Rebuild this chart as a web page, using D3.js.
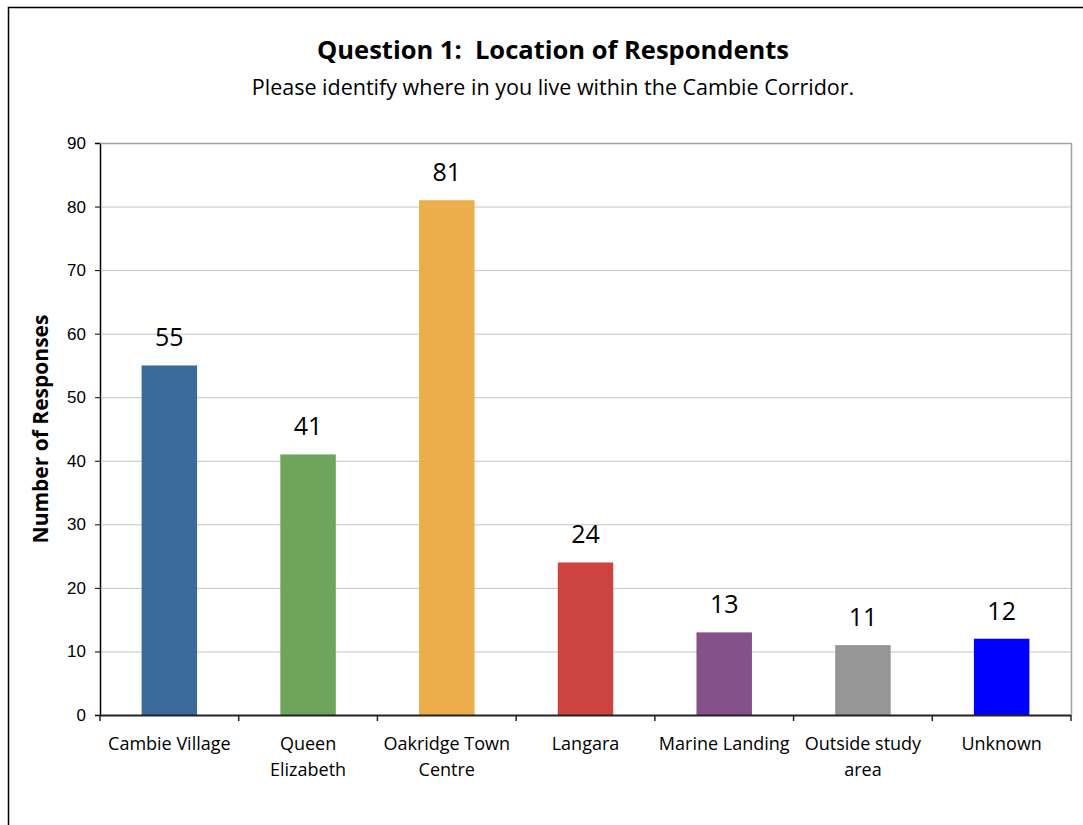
<!DOCTYPE html>
<html>
<head>
<meta charset="utf-8">
<script src="https://cdn.jsdelivr.net/npm/d3@7"></script>
<style>
body { margin: 0; background: #fff; }
</style>
</head>
<body>
<svg class="chart" width="1083" height="825"></svg>
<script>
var categories = [["Cambie Village"], ["Queen", "Elizabeth"], ["Oakridge Town", "Centre"], ["Langara"], ["Marine Landing"], ["Outside study", "area"], ["Unknown"]];
var responses = [55, 41, 81, 24, 13, 11, 12];
var colors = ["#3b6a9b", "#6ea45b", "#ecae4b", "#cc4340", "#845189", "#969696", "#0000ff"];
var yTicks = [0, 10, 20, 30, 40, 50, 60, 70, 80, 90];

var humanist = "'Open Sans', 'Noto Sans', sans-serif";

var svg = d3.select(".chart"),
    margin = {top: 143, right: 12, bottom: 110, left: 100},
    width = +svg.attr("width") - margin.left - margin.right,
    height = +svg.attr("height") - margin.top - margin.bottom;

// outer frame (cut off at right and bottom like the original)
svg.append("path")
    .attr("d", "M8.5,1083 V7.5 H1083")
    .attr("fill", "none")
    .attr("stroke", "#000")
    .attr("stroke-width", 1.5);

svg.append("text")
    .attr("x", 553).attr("y", 59)
    .attr("text-anchor", "middle")
    .attr("font-family", humanist)
    .attr("font-weight", "bold")
    .attr("font-size", 25.5)
    .text("Question 1:\u00a0 Location of Respondents");

svg.append("text")
    .attr("x", 553).attr("y", 95)
    .attr("text-anchor", "middle")
    .attr("font-family", humanist)
    .attr("font-size", 21.5)
    .text("Please identify where in you live within the Cambie Corridor.");

var g = svg.append("g").attr("transform", "translate(" + margin.left + "," + margin.top + ")");

var idx = d3.range(categories.length);
var x = d3.scaleBand()
    .domain(idx)
    .range([0, width])
    .paddingInner(0.6)
    .paddingOuter(0.3);

var y = d3.scaleLinear()
    .domain([0, 90])
    .range([height, 0]);

// gridlines
g.append("g")
  .selectAll("line")
  .data(yTicks.slice(1))
  .enter().append("line")
    .attr("x1", 0).attr("x2", width)
    .attr("y1", function(d) { return y(d) + 0.5; })
    .attr("y2", function(d) { return y(d) + 0.5; })
    .attr("stroke", "#c4c4c4")
    .attr("stroke-width", 1);

// plot area border right
g.append("line")
    .attr("x1", width + 0.5).attr("x2", width + 0.5)
    .attr("y1", 0).attr("y2", height)
    .attr("stroke", "#a0a0a0")
    .attr("stroke-width", 1.5);

// bars
g.selectAll(".bar")
  .data(responses)
  .enter().append("rect")
    .attr("class", "bar")
    .attr("x", function(d, i) { return x(i); })
    .attr("y", function(d) { return y(d); })
    .attr("width", x.bandwidth())
    .attr("height", function(d) { return height - y(d); })
    .attr("fill", function(d, i) { return colors[i]; });

// value labels
g.selectAll(".val")
  .data(responses)
  .enter().append("text")
    .attr("class", "val")
    .attr("x", function(d, i) { return x(i) + x.bandwidth() / 2; })
    .attr("y", function(d) { return y(d) - 19; })
    .attr("text-anchor", "middle")
    .attr("font-family", humanist)
    .attr("font-size", 25)
    .text(function(d) { return d; });

// y axis
var yAxis = g.append("g")
    .call(d3.axisLeft(y).tickValues(yTicks).tickSize(5).tickPadding(9));
yAxis.selectAll("text")
    .attr("font-family", "'Liberation Sans', Arial, sans-serif")
    .attr("font-size", 17)
    .attr("fill", "#000");
yAxis.selectAll("line").attr("stroke", "#000");
yAxis.select(".domain").attr("stroke", "#000").attr("stroke-width", 1.5);

// x axis with ticks at band edges
var step = x.step();
var edges = d3.range(categories.length + 1).map(function(i) { return x(0) - step * 0.3 + i * step; });
var xAxis = g.append("g").attr("transform", "translate(0," + height + ")");
xAxis.append("line")
    .attr("x1", 0).attr("x2", width)
    .attr("y1", 0.5).attr("y2", 0.5)
    .attr("stroke", "#222").attr("stroke-width", 2);
xAxis.selectAll(".tk")
  .data(edges)
  .enter().append("line")
    .attr("class", "tk")
    .attr("x1", function(d) { return d; }).attr("x2", function(d) { return d; })
    .attr("y1", 0).attr("y2", 6)
    .attr("stroke", "#222").attr("stroke-width", 1.5);

var lab = xAxis.selectAll(".cat")
  .data(categories)
  .enter().append("text")
    .attr("class", "cat")
    .attr("x", function(d, i) { return x(i) + x.bandwidth() / 2; })
    .attr("y", 35)
    .attr("text-anchor", "middle")
    .attr("font-family", humanist)
    .attr("font-size", 18)
    .attr("fill", "#000");
lab.selectAll("tspan")
  .data(function(d) { return d; })
  .enter().append("tspan")
    .attr("x", function() { return d3.select(this.parentNode).attr("x"); })
    .attr("dy", function(d, i) { return i ? 26 : 0; })
    .text(function(d) { return d; });

// plot area top border
g.append("line")
    .attr("x1", 0).attr("x2", width)
    .attr("y1", 0.5).attr("y2", 0.5)
    .attr("stroke", "#a0a0a0")
    .attr("stroke-width", 1.5);

// y axis title
svg.append("text")
    .attr("transform", "translate(48," + (margin.top + height / 2) + ") rotate(-90)")
    .attr("text-anchor", "middle")
    .attr("font-family", humanist)
    .attr("font-weight", "bold")
    .attr("font-size", 21)
    .text("Number of Responses");
</script>
</body>
</html>
